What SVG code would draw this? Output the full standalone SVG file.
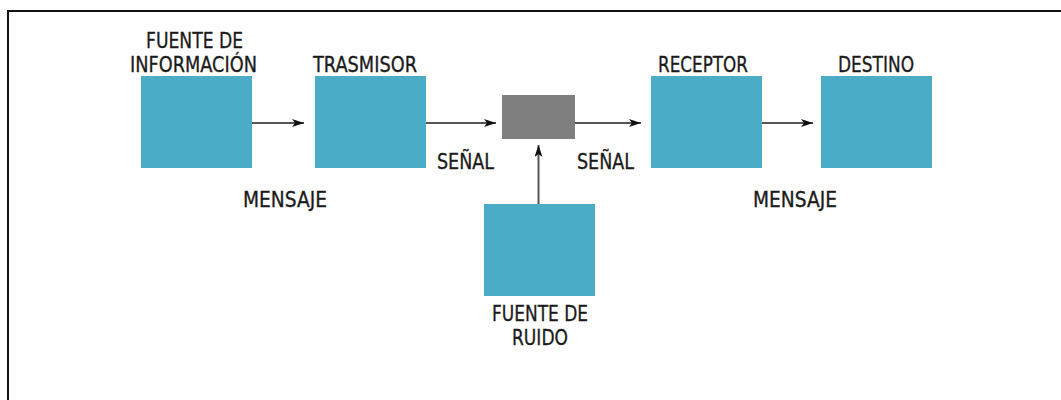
<svg xmlns="http://www.w3.org/2000/svg" width="1061" height="400" viewBox="0 0 1061 400">
<defs>
<style>
.box{fill:#4aacc6}
.noise{fill:#7f7f7f}
.lbl{font-family:"DejaVu Sans Condensed","DejaVu Sans",sans-serif;font-stretch:condensed;font-size:21.5px;fill:#1a1a1a;stroke:#1a1a1a;stroke-width:0.3}
.conn{stroke:#555;stroke-width:2;fill:none;marker-end:url(#ah)}
</style>
<marker id="ah" viewBox="0 0 12 8" refX="12" refY="4" markerWidth="12" markerHeight="8" markerUnits="userSpaceOnUse" orient="auto">
<path d="M0,0 L12,4 L0,8 L3,4 Z" fill="#111"/>
</marker>
</defs>
<rect width="1061" height="400" fill="#fff"/>
<path d="M8,400 V11 H1061" fill="none" stroke="#111" stroke-width="2"/>
<g id="fuente-informacion">
<rect class="box" x="141" y="76" width="111" height="92"/>
<text class="lbl" x="146" y="48" textLength="97" lengthAdjust="spacingAndGlyphs">FUENTE DE</text>
<text class="lbl" x="130" y="72" textLength="127" lengthAdjust="spacingAndGlyphs">INFORMACIÓN</text>
</g>
<g id="trasmisor">
<rect class="box" x="315" y="76" width="111" height="92"/>
<text class="lbl" x="313" y="72" textLength="104" lengthAdjust="spacingAndGlyphs">TRASMISOR</text>
</g>
<g id="canal">
<rect class="noise" x="502" y="95" width="73" height="44"/>
</g>
<g id="receptor">
<rect class="box" x="651" y="76" width="111" height="92"/>
<text class="lbl" x="658" y="72" textLength="90" lengthAdjust="spacingAndGlyphs">RECEPTOR</text>
</g>
<g id="destino">
<rect class="box" x="821" y="76" width="111" height="92"/>
<text class="lbl" x="838" y="72" textLength="76" lengthAdjust="spacingAndGlyphs">DESTINO</text>
</g>
<g id="fuente-ruido">
<rect class="box" x="484" y="204" width="111" height="92"/>
<text class="lbl" x="492" y="321" textLength="96" lengthAdjust="spacingAndGlyphs">FUENTE DE</text>
<text class="lbl" x="512" y="345" textLength="56" lengthAdjust="spacingAndGlyphs">RUIDO</text>
</g>
<g id="connectors">
<line class="conn" x1="252" y1="123" x2="304" y2="123"/>
<line class="conn" x1="426" y1="123" x2="496" y2="123"/>
<line class="conn" x1="575" y1="123" x2="641" y2="123"/>
<line class="conn" x1="762" y1="123" x2="813" y2="123"/>
<line class="conn" x1="538.5" y1="204" x2="538.5" y2="145"/>
<text class="lbl" x="243" y="207" textLength="84" lengthAdjust="spacingAndGlyphs">MENSAJE</text>
<text class="lbl" x="437" y="169" textLength="57" lengthAdjust="spacingAndGlyphs">SEÑAL</text>
<text class="lbl" x="577" y="169" textLength="57" lengthAdjust="spacingAndGlyphs">SEÑAL</text>
<text class="lbl" x="753" y="207" textLength="84" lengthAdjust="spacingAndGlyphs">MENSAJE</text>
</g>
</svg>
